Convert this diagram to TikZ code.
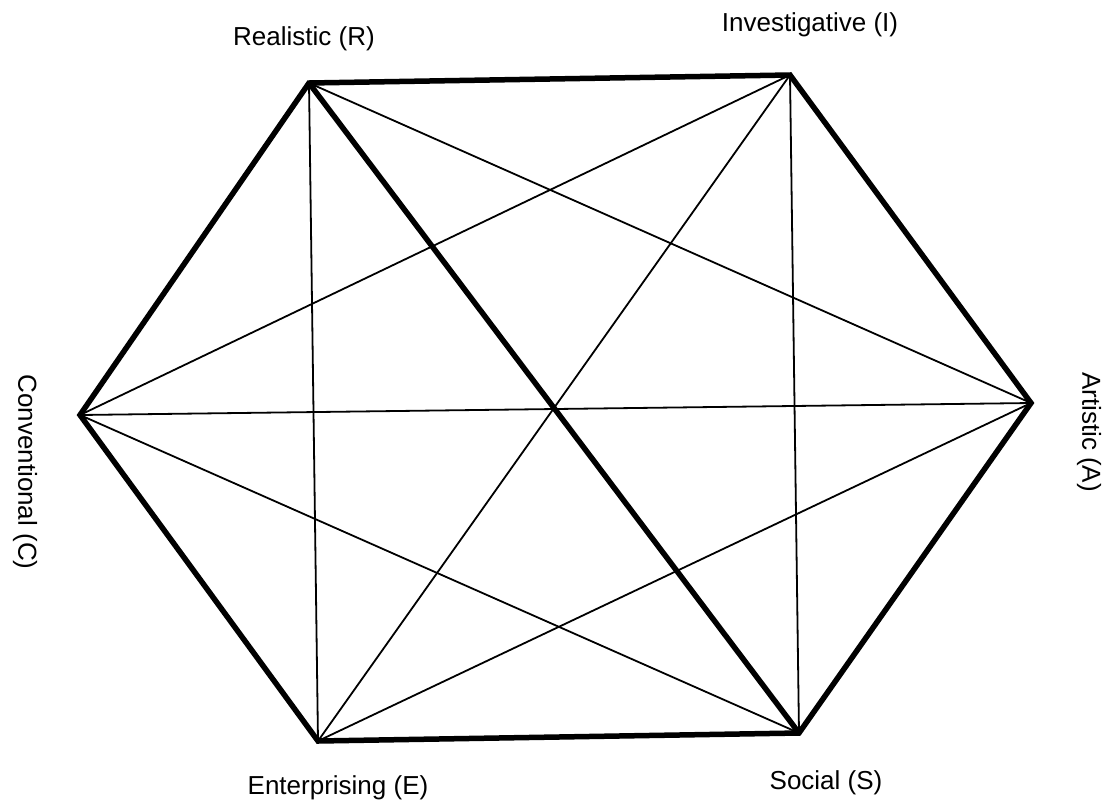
\documentclass[tikz,border=0pt]{standalone}
\usepackage{fontspec}
\setmainfont{Liberation Sans}
\begin{document}
\begin{tikzpicture}[x=1pt,y=-1pt,
  thickedge/.style={line width=5.5pt,line join=miter,line cap=butt},
  thinedge/.style={line width=1.8pt,line cap=round},
  lbl/.style={inner sep=0pt,font=\fontsize{26}{31}\selectfont}]
\useasboundingbox (0,0) rectangle (1103,804);
\coordinate (R) at (309,83);
\coordinate (I) at (790,75);
\coordinate (A) at (1031,403);
\coordinate (S) at (799,733);
\coordinate (E) at (318,741);
\coordinate (C) at (80,415);
% thin lines
\draw[thinedge] (R) -- (E);
\draw[thinedge] (I) -- (S);
\draw[thinedge] (R) -- (A);
\draw[thinedge] (I) -- (C);
\draw[thinedge] (C) -- (A);
\draw[thinedge] (I) -- (E);
\draw[thinedge] (C) -- (S);
\draw[thinedge] (E) -- (A);
% thick lines
\draw[thickedge] (R) -- (I) -- (A) -- (S) -- (E) -- (C) -- cycle;
\draw[thickedge] (R) -- (S);
% labels
\node[lbl] (lR) at (304,39) {Realistic (R)};
\node[lbl] (lI) at (810,25) {Investigative (I)};
\node[lbl,rotate=-90] (lA) at (1089,432) {Artistic (A)};
\node[lbl] (lS) at (826,783) {Social (S)};
\node[lbl] (lE) at (338,788) {Enterprising (E)};
\node[lbl,rotate=-90] (lC) at (25,472) {Conventional (C)};
\end{tikzpicture}
\end{document}
